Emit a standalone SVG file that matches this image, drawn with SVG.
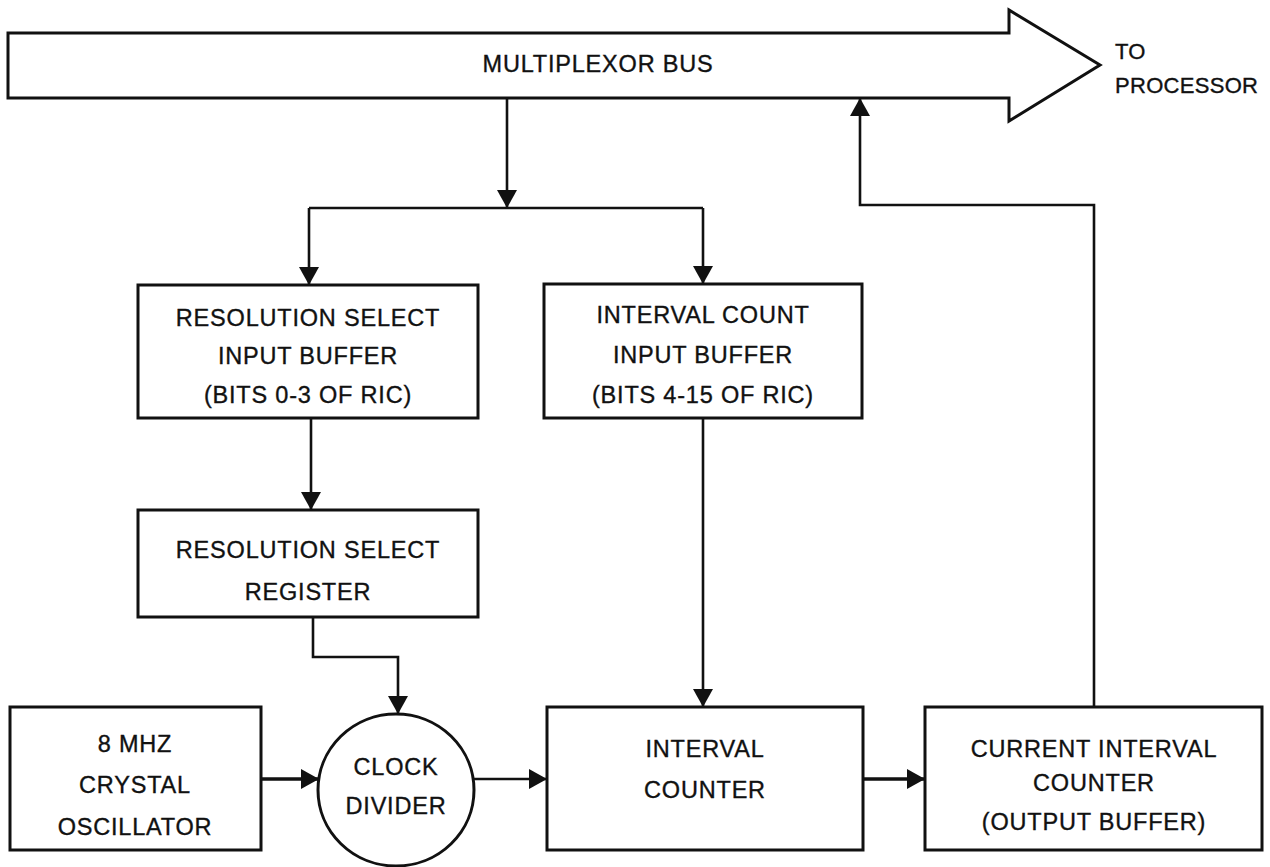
<svg xmlns="http://www.w3.org/2000/svg" width="1270" height="867" viewBox="0 0 1270 867">
  <style>
    .box { fill: #fff; stroke: #111; stroke-width: 3; }
    .wire { fill: none; stroke: #111; stroke-width: 2.6; }
    .lbl { font-family: "Liberation Sans", Arial, sans-serif; font-size: 23.5px; fill: #111; stroke: #111; stroke-width: 0.35; text-anchor: middle; letter-spacing: 0.8px; }
    .lbl-l { font-family: "Liberation Sans", Arial, sans-serif; font-size: 22px; fill: #111; stroke: #111; stroke-width: 0.35; letter-spacing: 0.3px; }
  </style>
  <defs>
    <marker id="arrow" markerUnits="userSpaceOnUse" markerWidth="18" markerHeight="20" viewBox="0 0 18 20" refX="18" refY="10" orient="auto">
      <path d="M0,0 L18,10 L0,20 Z" fill="#111"/>
    </marker>
  </defs>
  <rect width="1270" height="867" fill="#fff"/>

  <!-- multiplexor bus: wide arrow pointing to the processor -->
  <g id="bus">
    <polygon class="box" points="8,33 1009,33 1009,10 1100,65 1009,121 1009,98 8,98"/>
    <text class="lbl" x="598" y="72">MULTIPLEXOR BUS</text>
    <text class="lbl-l" x="1115" y="59">TO</text>
    <text class="lbl-l" x="1115" y="93">PROCESSOR</text>
  </g>

  <g id="res-input">
    <rect class="box" x="138" y="285" width="340" height="133"/>
    <text class="lbl" x="308" y="326">RESOLUTION SELECT</text>
    <text class="lbl" x="308" y="364">INPUT BUFFER</text>
    <text class="lbl" x="308" y="403">(BITS 0-3 OF RIC)</text>
  </g>

  <g id="ic-input">
    <rect class="box" x="544" y="284" width="318" height="134"/>
    <text class="lbl" x="703" y="323">INTERVAL COUNT</text>
    <text class="lbl" x="703" y="363">INPUT BUFFER</text>
    <text class="lbl" x="703" y="403">(BITS 4-15 OF RIC)</text>
  </g>

  <g id="res-register">
    <rect class="box" x="138" y="510" width="340" height="107"/>
    <text class="lbl" x="308" y="558">RESOLUTION SELECT</text>
    <text class="lbl" x="308" y="600">REGISTER</text>
  </g>

  <g id="oscillator">
    <rect class="box" x="10" y="707" width="251" height="143"/>
    <text class="lbl" x="135" y="752">8 MHZ</text>
    <text class="lbl" x="135" y="793">CRYSTAL</text>
    <text class="lbl" x="135" y="835">OSCILLATOR</text>
  </g>

  <g id="clock-divider">
    <ellipse class="box" cx="396" cy="790" rx="78" ry="76"/>
    <text class="lbl" x="396" y="775">CLOCK</text>
    <text class="lbl" x="396" y="814">DIVIDER</text>
  </g>

  <g id="interval-counter">
    <rect class="box" x="547" y="707" width="316" height="143"/>
    <text class="lbl" x="705" y="757">INTERVAL</text>
    <text class="lbl" x="705" y="798">COUNTER</text>
  </g>

  <g id="current-counter">
    <rect class="box" x="925" y="707" width="337" height="143"/>
    <text class="lbl" x="1094" y="757">CURRENT INTERVAL</text>
    <text class="lbl" x="1094" y="791">COUNTER</text>
    <text class="lbl" x="1094" y="830">(OUTPUT BUFFER)</text>
  </g>

  <g id="connectors">
    <path class="wire" d="M507,98 V208" marker-end="url(#arrow)"/>
    <path class="wire" d="M309,208 H703"/>
    <path class="wire" d="M309,208 V285" marker-end="url(#arrow)"/>
    <path class="wire" d="M703,208 V284" marker-end="url(#arrow)"/>
    <path class="wire" d="M311,418 V510" marker-end="url(#arrow)"/>
    <path class="wire" d="M313,617 V657 H398 V714" marker-end="url(#arrow)"/>
    <path class="wire" d="M703,418 V707" marker-end="url(#arrow)"/>
    <path class="wire" d="M261,779 H319" style="stroke-width:3.5" marker-end="url(#arrow)"/>
    <path class="wire" d="M474,779 H547" marker-end="url(#arrow)"/>
    <path class="wire" d="M863,779 H925" style="stroke-width:3.5" marker-end="url(#arrow)"/>
    <path class="wire" d="M1094,707 V205 H860 V98" marker-end="url(#arrow)"/>
  </g>
</svg>
